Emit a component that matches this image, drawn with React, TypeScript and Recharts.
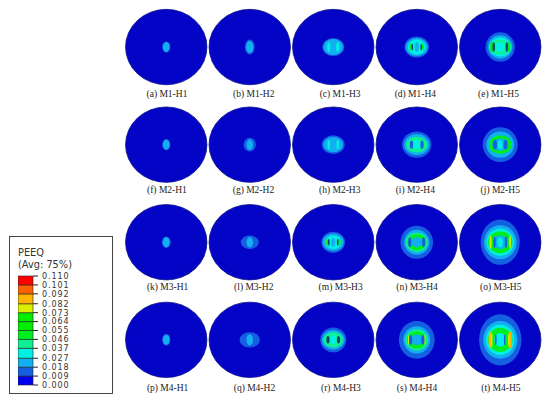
import { Bar, BarChart, Scatter, ScatterChart, XAxis, YAxis } from "recharts";

// PEEQ colour bands, lowest to highest
const bandColors = [
  "#0000f0", "#1560e0", "#12b0f0", "#00f0e4", "#10f090", "#00ee20",
  "#00ee00", "#00ee00", "#d8f000", "#ffb400", "#ff6000", "#ff0000",
];
const legendTicks = [0, 0.009, 0.018, 0.027, 0.037, 0.046, 0.055, 0.064, 0.073, 0.082, 0.092, 0.101, 0.11];
// dark core seen at the hole edges, not a legend band
const CORE = 12;
const contourColors = [...bandColors, "#0a4a70"];

const panelLetters = "abcdefghijklmnopqrst".split("");
const meshes = ["M1", "M2", "M3", "M4"];
const holes = ["H1", "H2", "H3", "H4", "H5"];

// contour = [band, half width, half height] in % of disc radius, outermost first
type Contour = [number, number, number];
// mark = [band, offset from centre, half width, half height], mirrored left and right
type Mark = [number, number, number, number];

const contoursM1: Contour[][] = [
  [[1, 10, 15], [2, 8, 13]],
  [[1, 12, 20], [2, 9, 16]],
  [[1, 27, 24], [2, 24, 21]],
  [[1, 30, 28], [2, 27, 24], [3, 22, 20], [2, 5, 13]],
  [[1, 36, 39], [2, 30, 31], [3, 27, 25], [4, 24, 20], [3, 11, 14]],
];
const contoursM2: Contour[][] = [
  [[1, 10, 15], [2, 8, 13]],
  [[1, 15, 18], [2, 8, 14]],
  [[1, 28, 25], [2, 24, 20]],
  [[1, 36, 35], [2, 31, 28], [4, 26, 21], [3, 9, 12]],
  [[1, 43, 46], [2, 34, 35], [5, 28, 25], [2, 20, 16], [3, 6, 12]],
];
const contoursM3: Contour[][] = [
  [[1, 11, 15], [2, 8, 13]],
  [[1, 22, 18], [2, 8, 14]],
  [[1, 29, 28], [2, 26, 23], [3, 20, 18], [2, 5, 12]],
  [[1, 40, 44], [2, 31, 33], [4, 27, 26], [5, 24, 21], [2, 13, 13]],
  [[1, 48, 60], [2, 40, 45], [3, 34, 36], [5, 30, 29], [2, 17, 18], [3, 7, 14]],
];
const contoursM4: Contour[][] = [
  [[1, 10, 16], [2, 8, 13]],
  [[1, 25, 20], [2, 8, 15]],
  [[1, 32, 33], [2, 28, 26], [4, 24, 20], [3, 8, 12]],
  [[1, 44, 50], [2, 33, 36], [4, 28, 28], [5, 24, 23], [2, 14, 14]],
  [[1, 52, 68], [2, 42, 50], [3, 35, 40], [5, 30, 32], [3, 15, 18]],
];

const marksM1: Mark[][] = [
  [],
  [],
  [[3, 11, 4, 13]],
  [[5, 15, 3, 9], [CORE, 11, 2, 9]],
  [[5, 21, 4, 14], [CORE, 16, 3, 13]],
];
const marksM2: Mark[][] = [
  [],
  [],
  [[3, 11, 3, 13]],
  [[1, 13, 4, 11]],
  [[1, 13, 5, 13]],
];
const marksM3: Mark[][] = [
  [],
  [],
  [[5, 15, 3, 9], [CORE, 11, 2, 9]],
  [[1, 17, 4, 13]],
  [[8, 24, 2.5, 18], [1, 14, 3, 15]],
];
const marksM4: Mark[][] = [
  [],
  [],
  [[CORE, 13, 4, 10]],
  [[8, 20, 1.5, 13], [1, 15, 4, 13]],
  [[9, 25, 3.5, 22], [8, 21, 2, 20], [1, 11, 2, 15]],
];

const allContours = [contoursM1, contoursM2, contoursM3, contoursM4];
const allMarks = [marksM1, marksM2, marksM3, marksM4];

const specimens = meshes.flatMap((mesh, r) =>
  holes.map((hole, c) => ({
    col: c + 1,
    row: r + 1,
    label: `(${panelLetters[r * 5 + c]}) ${mesh}-${hole}`,
    contours: allContours[r][c],
    marks: allMarks[r][c],
  })),
);

// one stacked band per legend step
const legendRow = [
  Object.fromEntries(
    bandColors.map((_, i) => [`band${i}`, legendTicks[i + 1] - legendTicks[i]]),
  ),
];

const DISC_RX = 40.7;
const DISC_RY = 37.7;
const LABEL_GAP = [47, 45.5, 44.5, 48];
const LABEL_NUDGE = [
  0.7, 4, 6.9, -1.4, -1.8,
  0.7, 3.7, 6.5, -1.4, 0,
  1.4, 4, 7.4, 0.3, 0.5,
  1.4, 4.7, 7.7, 0.3, 0.7,
];

function SpecimenShape(props: any) {
  const { cx, cy, payload } = props;
  const index = (payload.row - 1) * 5 + payload.col - 1;
  return (
    <g>
      <ellipse cx={cx} cy={cy} rx={DISC_RX} ry={DISC_RY} fill="#0404c6" stroke="#0a0f8a" strokeWidth={0.8} />
      <g style={{ filter: "blur(0.7px)" }}>
        {payload.contours.map((c: Contour, i: number) => (
          <ellipse
            key={i}
            cx={cx}
            cy={cy}
            rx={(c[1] / 100) * DISC_RX}
            ry={(c[2] / 100) * DISC_RY}
            fill={contourColors[c[0]]}
          />
        ))}
        {payload.marks.flatMap((m: Mark, i: number) =>
          [-1, 1].map((side) => (
            <ellipse
              key={`${i}${side}`}
              cx={cx + side * (m[1] / 100) * DISC_RX}
              cy={cy}
              rx={(m[2] / 100) * DISC_RX}
              ry={(m[3] / 100) * DISC_RY}
              fill={contourColors[m[0]]}
            />
          )),
        )}
      </g>
      <text
        x={cx + LABEL_NUDGE[index]}
        y={cy + LABEL_GAP[payload.row - 1]}
        dy="0.32em"
        textAnchor="middle"
        fontFamily="'Liberation Serif', serif"
        fontSize={9.5}
        fill="#222"
      >
        {payload.label}
      </text>
    </g>
  );
}

export default function App() {
  return (
    <div style={{ position: "absolute", left: 0, top: 0, width: 550, height: 404, background: "#fff" }}>
      <ScatterChart
        width={550}
        height={404}
        margin={{ top: 8, right: 8, bottom: 5.6, left: 124.5 }}
      >
        <XAxis type="number" dataKey="col" domain={[0.5, 5.5]} hide />
        <YAxis type="number" dataKey="row" domain={[0.6, 4.6]} reversed hide />
        <Scatter data={specimens} shape={SpecimenShape} isAnimationActive={false} />
      </ScatterChart>

      <div
        style={{
          position: "absolute",
          left: 9,
          top: 236,
          width: 102,
          height: 156,
          border: "1.2px solid #444",
          fontFamily: "'DejaVu Sans', sans-serif",
          fontSize: 9.8,
          color: "#333",
        }}
      >
        <div style={{ position: "absolute", left: 8, top: 10, whiteSpace: "nowrap" }}>PEEQ</div>
        <div style={{ position: "absolute", left: 8, top: 22, whiteSpace: "nowrap" }}>(Avg: 75%)</div>
      </div>

      <div style={{ position: "absolute", left: 18, top: 266 }}>
        <BarChart
          width={80}
          height={129}
          data={legendRow}
          margin={{ top: 10, right: 0, bottom: 10, left: 0 }}
          barCategoryGap={0}
        >
          <XAxis hide />
          <YAxis
            orientation="right"
            type="number"
            domain={[0, 0.11]}
            ticks={legendTicks}
            interval={0}
            width={65}
            tickSize={5}
            tickMargin={4}
            axisLine={false}
            tickLine={{ stroke: "#222" }}
            tick={{ fill: "#333", fontSize: 8, letterSpacing: 0.9, fontFamily: "'DejaVu Sans', sans-serif" }}
            tickFormatter={(v: number) => v.toFixed(3)}
          />
          {bandColors.map((color, i) => (
            <Bar
              key={i}
              dataKey={`band${i}`}
              stackId="peeq"
              fill={color}
              stroke="#222"
              strokeWidth={0.6}
              isAnimationActive={false}
            />
          ))}
        </BarChart>
      </div>
    </div>
  );
}
